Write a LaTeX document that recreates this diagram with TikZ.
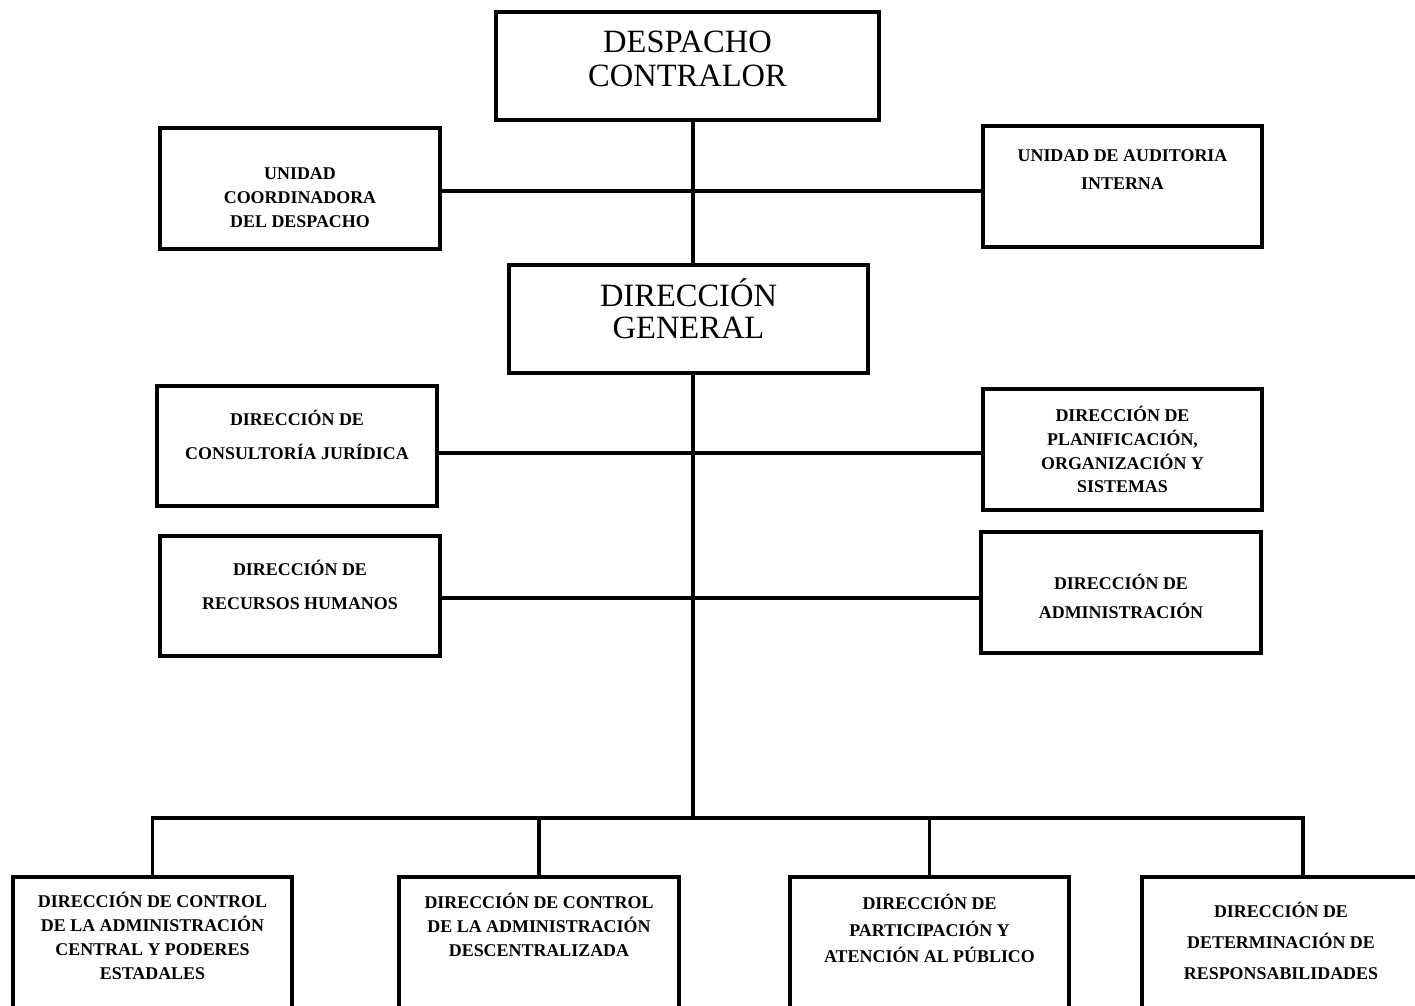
\documentclass[tikz,border=0pt]{standalone}
\usepackage{fontspec}
\setmainfont{Liberation Serif}
\usetikzlibrary{positioning,calc}

\begin{document}
\begin{tikzpicture}[x=0.02cm,y=-0.02cm,line width=2.2pt,
 box/.style={draw,rectangle,inner sep=0pt,minimum width=5.6cm,minimum height=2.42cm},
 txt/.style={font=\fontsize{10.2}{#1}\selectfont\bfseries,align=center,inner sep=0pt},
 txt/.default=13.6,
 big/.style={font=\fontsize{18.5}{#1}\selectfont,align=center,inner sep=0pt}]
\clip (0,0) rectangle (1415,1005);
\node[box,minimum width=7.66cm,minimum height=2.16cm,
 label={[big=19.3,yshift=0.14cm]center:DESPACHO\\CONTRALOR}] (desp) at (687.5,66) {};
\node[box,label={[txt,yshift=-0.19cm]center:UNIDAD\\COORDINADORA\\DEL DESPACHO}] (ucd) at (300,188.5) {};
\node[box,minimum width=5.58cm,label={[txt=16.4,yshift=0.34cm]center:UNIDAD DE AUDITORIA\\INTERNA}] (uai) at (1122.5,186.5) {};
\node[box,minimum width=7.18cm,minimum height=2.16cm,
 label={[big=18.1,yshift=0.2cm]center:DIRECCIÓN\\GENERAL}] (dg) at (688.5,319) {};
\node[box,minimum height=2.4cm,label={[txt=19.3,yshift=0.22cm]center:DIRECCIÓN DE\\CONSULTORÍA JURÍDICA}] (djur) at (297,446) {};
\node[box,minimum width=5.58cm,label={[txt]center:DIRECCIÓN DE\\PLANIFICACIÓN,\\ORGANIZACIÓN Y\\SISTEMAS}] (dplan) at (1122.5,449.5) {};
\node[box,minimum height=2.4cm,label={[txt=19.3,yshift=0.22cm]center:DIRECCIÓN DE\\RECURSOS HUMANOS}] (drh) at (300,596) {};
\node[box,label={[txt=16.4,yshift=-0.08cm]center:DIRECCIÓN DE\\ADMINISTRACIÓN}] (dadm) at (1121,592.5) {};
\node[box,minimum width=5.58cm,minimum height=3.26cm,
 label={[txt,yshift=0.45cm]center:DIRECCIÓN DE CONTROL\\DE LA ADMINISTRACIÓN\\CENTRAL Y PODERES\\ESTADALES}] (dcac) at (152.5,958.5) {};
\node[box,minimum height=3.26cm,
 label={[txt,yshift=0.67cm]center:DIRECCIÓN DE CONTROL\\DE LA ADMINISTRACIÓN\\DESCENTRALIZADA}] (dcad) at (539,958.5) {};
\node[box,minimum width=5.58cm,minimum height=3.26cm,
 label={[txt=15,yshift=0.6cm]center:DIRECCIÓN DE\\PARTICIPACIÓN Y\\ATENCIÓN AL PÚBLICO}] (dpap) at (929.5,958.5) {};
\node[box,minimum width=5.76cm,minimum height=3.26cm,
 label={[txt=17.6,yshift=0.35cm,xshift=-0.1cm]center:DIRECCIÓN DE\\DETERMINACIÓN DE\\RESPONSABILIDADES}] (ddr) at (1286,958.5) {};
\coordinate (spine) at (693,191);
\coordinate (bus) at (693,818);
\coordinate (drop4) at (1303,818);
\draw (desp.south -| spine) -- (dg.north -| spine);
\draw (ucd.east |- spine) -- (uai.west |- spine);
\draw (dg.south -| spine) -- (bus);
\draw (djur.east |- 0,453) -- (dplan.west |- 0,453);
\draw (drh.east |- 0,598) -- (dadm.west |- 0,598);
\draw (dcac.north) |- (drop4) -- (drop4 |- ddr.north);
\draw (bus -| dcad.north) -- (dcad.north);
\draw (bus -| dpap.north) -- (dpap.north);
\end{tikzpicture}
\end{document}
